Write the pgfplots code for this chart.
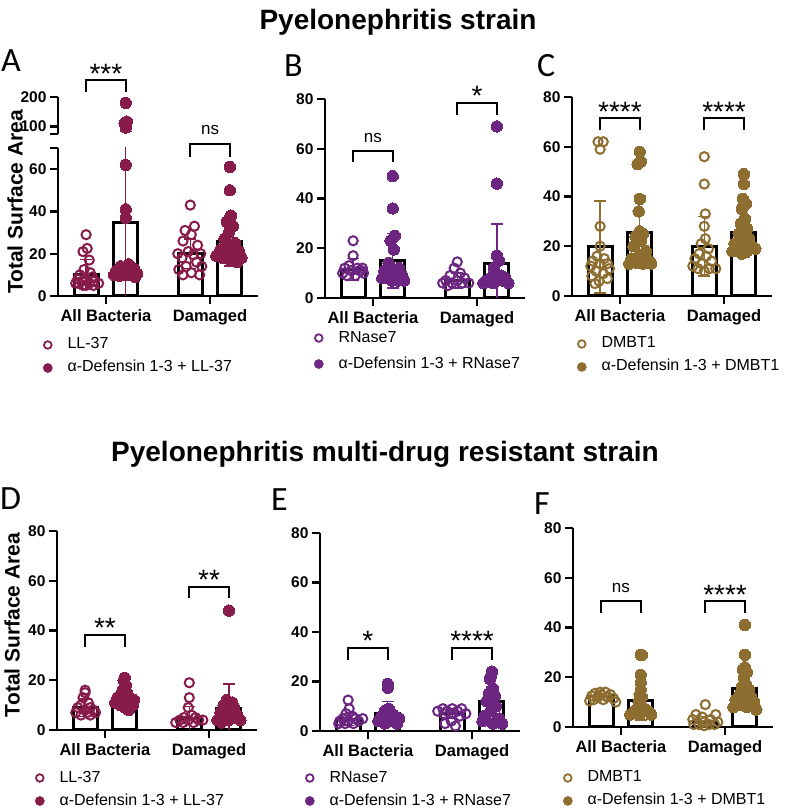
\documentclass[border=0pt]{standalone}
\usepackage{pgfplots}
\pgfplotsset{compat=1.18}
\usepackage{fontspec}
\setmainfont{Liberation Sans}
\newfontfamily\letterfont{Carlito}
\definecolor{cA}{RGB}{135,28,75}
\definecolor{cB}{RGB}{108,38,130}
\definecolor{cC}{RGB}{141,109,48}
\newcommand{\starfont}{\fontsize{28}{30}\selectfont}
\newcommand{\nsfont}{\fontsize{17}{20}\selectfont}
\pgfplotsset{
  /pgf/number format/assume math mode=true,
  panel/.style={
    scale only axis, width=200pt, height=199pt,
    xmin=-0.46, xmax=1.46, ymin=0, ymax=80,
    axis x line=bottom, axis y line=left,
    axis line style={-, line width=2.4pt, black},
    xtick={0,1}, xticklabels={All Bacteria,Damaged},
    ytick={0,20,40,60,80},
    tick align=outside, major tick length=8pt,
    tick style={line width=2.4pt, black},
    x tick label style={font=\bfseries\fontsize{16.5}{19}\selectfont, yshift=-2pt},
    y tick label style={font=\bfseries\fontsize{15.5}{18}\selectfont},
    clip mode=individual,
    legend cell align=left,
    legend style={draw=none, fill=none, inner sep=0pt, outer sep=0pt, anchor=north west,
      font=\fontsize{16}{18}\selectfont, row sep=7pt, column sep=14pt,
      nodes={inner sep=1pt, text height=11pt, text depth=3pt}},
  },
  barS/.style={ybar, bar width=24pt, bar shift=0pt, draw=black, line width=3pt, fill=white, forget plot,
    error bars/.cd, y dir=both, y explicit,
    error bar style={color=#1, line width=1.3pt},
    error mark options={rotate=90, mark size=6pt, line width=1.3pt, color=#1}},
  openP/.style={only marks, mark=o, mark size=4.6pt, color=#1, mark options={line width=2pt, draw=#1}, forget plot},
  fillP/.style={only marks, mark=*, mark size=5.7pt, color=#1, mark options={draw=#1, fill=#1, line width=0pt}, forget plot},
}
\begin{document}
\begin{tikzpicture}[x=1pt,y=1pt]
\useasboundingbox (0,0) rectangle (794,811);

% titles
\node[anchor=base, font=\bfseries\fontsize{28}{32}\selectfont] at (398,781) {Pyelonephritis strain};
\node[anchor=base, font=\bfseries\fontsize{28}{32}\selectfont] at (385,349) {Pyelonephritis multi-drug resistant strain};
% panel letters
\node[anchor=base west, inner sep=0pt, font=\letterfont\fontsize{34}{38}\selectfont] at (1,739) {A};
\node[anchor=base west, inner sep=0pt, font=\letterfont\fontsize{34}{38}\selectfont] at (284,734) {B};
\node[anchor=base west, inner sep=0pt, font=\letterfont\fontsize{34}{38}\selectfont] at (537,734) {C};
\node[anchor=base west, inner sep=0pt, font=\letterfont\fontsize{34}{38}\selectfont] at (0,301) {D};
\node[anchor=base west, inner sep=0pt, font=\letterfont\fontsize{34}{38}\selectfont] at (271,300) {E};
\node[anchor=base west, inner sep=0pt, font=\letterfont\fontsize{34}{38}\selectfont] at (534,296) {F};
% y labels
\node[rotate=90, font=\bfseries\fontsize{21}{24}\selectfont] at (15,609) {Total Surface Area};
\node[rotate=90, font=\bfseries\fontsize{21}{24}\selectfont] at (12,186) {Total Surface Area};

% ---------- Panel A (upper segment of broken axis)
\begin{axis}[scale only axis, width=200pt, height=37pt, at={(58pt,677pt)}, anchor=south west,
  xmin=-0.46, xmax=1.46, ymin=75, ymax=200,
  axis x line=none, axis y line=left, xtick=\empty,
  axis line style={-, line width=2.4pt, black},
  ytick={75,100,200}, yticklabels={{},100,200},
  tick align=outside, major tick length=8pt, tick style={line width=2.4pt, black},
  y tick label style={font=\bfseries\fontsize{15.5}{18}\selectfont},
  clip mode=individual]
\addplot[draw=none, mark=none, forget plot, error bars/.cd, y dir=both, y explicit,
  error bar style={color=cA, line width=1.3pt},
  error mark options={rotate=90, mark size=6pt, line width=1.3pt, color=cA}]
  coordinates {(0.19,34.7) +- (0,48)};
\addplot[fillP=cA] coordinates {(0.19,180) (0.2,117) (0.18,112) (0.19,97)};
\draw[line width=2pt] (axis cs:-0.19,216.9) |- (axis cs:0.19,257.4) -- (axis cs:0.19,216.9);
\node[anchor=base, inner sep=0pt, font=\starfont] at (axis cs:0,247) {***};
\end{axis}

% ---------- Panel A (lower segment)
\begin{axis}[panel, at={(58pt,515pt)}, anchor=south west, height=148pt, ymax=70,
  ytick={0,20,40,60,70}, yticklabels={0,20,40,60,{}},
  legend style={at={(-0.075,-0.277)}}]
\addplot[barS=cA] coordinates {(-0.19,10.3) +- (0,6.8) (0.19,34.7) +- (0,48) (0.81,20) +- (0,7) (1.19,26) +- (0,11.8)};
\addplot[openP=cA] coordinates {(-0.19,29) (-0.18,22.5) (-0.22,21) (-0.16,17) (-0.21,12.5) (-0.15,11) (-0.25,10) (-0.13,9) (-0.27,8) (-0.19,8) (-0.23,7) (-0.11,7) (-0.29,6) (-0.16,6) (-0.07,6) (-0.22,5) (-0.12,5) (-0.26,6) (-0.19,5)
 (0.81,43) (0.85,33) (0.76,31) (0.82,29) (0.74,26) (0.88,24) (0.79,21) (0.69,20) (0.91,20) (0.84,19.5) (0.73,18) (0.87,16) (0.77,14) (0.92,14) (0.7,12.5) (0.82,11) (0.74,10) (0.9,10)};
\addplot[fillP=cA] coordinates {(0.19,62) (0.19,41) (0.19,37) (0.22,15) (0.14,14) (0.27,13) (0.1,12) (0.24,12) (0.17,11) (0.3,10.5) (0.08,10) (0.2,10) (0.13,9.5) (0.28,9)
 (1.19,61) (1.19,50) (1.2,38) (1.16,35) (1.22,33) (1.18,30) (1.14,27) (1.24,25) (1.19,23) (1.1,22) (1.28,21) (1.15,20) (1.23,19) (1.06,19) (1.3,18) (1.12,18) (1.2,17) (1.26,16)};
\addlegendimage{legend image code/.code={\draw[cA,line width=1.8pt] (0pt,0pt) circle (3.8pt);}}
\addlegendentry{LL-37}
\addlegendimage{legend image code/.code={\fill[cA] (0pt,0pt) circle (4.6pt);}}
\addlegendentry{α-Defensin 1-3 + LL-37}
\draw[line width=2pt] (axis cs:0.81,65.8) |- (axis cs:1.19,71.9) -- (axis cs:1.19,65.8);
\node[anchor=base, font=\nsfont] at (axis cs:1,76.2) {ns};
\end{axis}

% ---------- Panel B
\begin{axis}[panel, at={(325pt,513pt)}, anchor=south west,
  legend style={at={(-0.055,-0.161)}, row sep=10pt}]
\addplot[barS=cB] coordinates {(-0.19,11.5) +- (0,4.5) (0.19,15) +- (0,11) (0.81,7) +- (0,3) (1.19,13.8) +- (0,15.9)};
\addplot[openP=cB] coordinates {(-0.19,23) (-0.19,17) (-0.23,13) (-0.15,12) (-0.27,12) (-0.11,11) (-0.21,11) (-0.29,10) (-0.09,10) (-0.17,9) (-0.25,9) (-0.13,11) (-0.1,12)
 (0.81,14.5) (0.78,12) (0.84,10) (0.74,9) (0.88,8) (0.7,7) (0.81,7) (0.92,6) (0.76,6) (0.86,6) (0.72,5) (0.67,6)};
\addplot[fillP=cB] coordinates {(0.19,49) (0.19,36) (0.21,25) (0.17,23) (0.2,19.5) (0.15,14) (0.25,12) (0.11,11) (0.2,10) (0.28,9) (0.09,8) (0.18,7) (0.3,7) (0.24,7) (0.13,8)
 (1.19,69) (1.19,46) (1.19,17) (1.21,15) (1.16,12) (1.23,9) (1.13,8) (1.27,8) (1.09,7) (1.19,7) (1.3,6) (1.15,6) (1.25,7) (1.06,6)};
\addlegendimage{legend image code/.code={\draw[cB,line width=1.8pt] (0pt,0pt) circle (3.8pt);}}
\addlegendentry{RNase7}
\addlegendimage{legend image code/.code={\fill[cB] (0pt,0pt) circle (4.6pt);}}
\addlegendentry{α-Defensin 1-3 + RNase7}
\draw[line width=2pt] (axis cs:-0.19,54.7) |- (axis cs:0.19,59.1) -- (axis cs:0.19,54.7);
\node[anchor=base, font=\nsfont] at (axis cs:0,62.7) {ns};
\draw[line width=2pt] (axis cs:0.81,73.6) |- (axis cs:1.19,78.4) -- (axis cs:1.19,73.6);
\node[anchor=base, inner sep=0pt, font=\starfont] at (axis cs:1,77.2) {*};
\end{axis}

% ---------- Panel C
\begin{axis}[panel, at={(572pt,515pt)}, anchor=south west,
  legend style={at={(0.025,-0.201)}}]
\addplot[barS=cC] coordinates {(-0.19,19.7) +- (0,18.5) (0.19,25.7) +- (0,14.5) (0.81,20) +- (0,12) (1.19,25.5) +- (0,9.8)};
\addplot[openP=cC] coordinates {(-0.21,62) (-0.16,62) (-0.19,59) (-0.19,28) (-0.19,20) (-0.22,16) (-0.15,15) (-0.26,14) (-0.12,13) (-0.19,13) (-0.28,12) (-0.1,11) (-0.23,10) (-0.16,9) (-0.27,8) (-0.12,7) (-0.2,6) (-0.24,5)
 (0.81,56) (0.81,45) (0.82,33) (0.81,28) (0.82,23) (0.78,21) (0.85,19) (0.76,17) (0.83,16) (0.72,15) (0.88,14) (0.79,13) (0.7,12) (0.92,11) (0.75,11) (0.86,11) (0.81,10)};
\addplot[fillP=cC] coordinates {(0.19,58) (0.2,54) (0.17,53) (0.19,39) (0.18,34) (0.19,26) (0.22,25) (0.15,24) (0.2,22) (0.13,20) (0.25,18) (0.18,16) (0.11,15) (0.28,14) (0.14,14) (0.22,13) (0.09,13) (0.3,13)
 (1.19,49) (1.19,45) (1.18,39) (1.21,37) (1.17,35) (1.2,31) (1.16,29) (1.22,27) (1.14,25) (1.24,23) (1.19,22) (1.1,21) (1.27,20) (1.13,19) (1.3,19) (1.08,18) (1.22,18) (1.17,17)};
\addlegendimage{legend image code/.code={\draw[cC,line width=1.8pt] (0pt,0pt) circle (3.8pt);}}
\addlegendentry{DMBT1}
\addlegendimage{legend image code/.code={\fill[cC] (0pt,0pt) circle (4.6pt);}}
\addlegendentry{α-Defensin 1-3 + DMBT1}
\draw[line width=2pt] (axis cs:-0.19,66.7) |- (axis cs:0.19,71.6) -- (axis cs:0.19,66.7);
\node[anchor=base, inner sep=0pt, font=\starfont] at (axis cs:0,70) {****};
\draw[line width=2pt] (axis cs:0.81,66.7) |- (axis cs:1.19,71.6) -- (axis cs:1.19,66.7);
\node[anchor=base, inner sep=0pt, font=\starfont] at (axis cs:1,70) {****};
\end{axis}

% ---------- Panel D
\begin{axis}[panel, at={(57pt,81pt)}, anchor=south west,
  legend style={at={(-0.11,-0.201)}}]
\addplot[barS=cA] coordinates {(-0.19,9) +- (0,3.5) (0.19,12.3) +- (0,3.8) (0.81,4.6) +- (0,4.8) (1.19,8.8) +- (0,9.7)};
\addplot[openP=cA] coordinates {(-0.19,16) (-0.19,15) (-0.21,13) (-0.16,11) (-0.23,10) (-0.14,9) (-0.26,9) (-0.19,8) (-0.11,8) (-0.28,7) (-0.17,7) (-0.09,7) (-0.23,6) (-0.14,6)
 (0.81,19) (0.81,13) (0.8,9) (0.83,6) (0.76,5) (0.87,5) (0.72,4) (0.8,4) (0.9,4) (0.75,3) (0.85,3) (0.68,3) (0.94,4)};
\addplot[fillP=cA] coordinates {(0.19,21) (0.18,20) (0.2,18) (0.17,16) (0.21,15) (0.15,14) (0.24,13) (0.12,13) (0.19,12) (0.28,12) (0.1,11) (0.22,11) (0.15,10) (0.27,10) (0.19,9) (0.23,8)
 (1.19,48) (1.17,12) (1.22,11) (1.14,10) (1.24,9) (1.19,8) (1.11,7) (1.27,6) (1.15,5) (1.23,5) (1.08,4) (1.3,4) (1.19,4) (1.12,3)};
\addlegendimage{legend image code/.code={\draw[cA,line width=1.8pt] (0pt,0pt) circle (3.8pt);}}
\addlegendentry{LL-37}
\addlegendimage{legend image code/.code={\fill[cA] (0pt,0pt) circle (4.6pt);}}
\addlegendentry{α-Defensin 1-3 + LL-37}
\draw[line width=2pt] (axis cs:-0.19,33.4) |- (axis cs:0.19,38.2) -- (axis cs:0.19,33.4);
\node[anchor=base, inner sep=0pt, font=\starfont] at (axis cs:0,37) {**};
\draw[line width=2pt] (axis cs:0.81,53.1) |- (axis cs:1.19,57.5) -- (axis cs:1.19,53.1);
\node[anchor=base, inner sep=0pt, font=\starfont] at (axis cs:1,56.3) {**};
\end{axis}

% ---------- Panel E
\begin{axis}[panel, at={(320pt,80pt)}, anchor=south west, height=198pt,
  legend style={at={(-0.075,-0.197)}}]
\addplot[barS=cB] coordinates {(-0.19,4.6) +- (0,2.5) (0.19,7) +- (0,5) (0.81,7) +- (0,2) (1.19,11.8) +- (0,6)};
\addplot[openP=cB] coordinates {(-0.19,12.5) (-0.18,9) (-0.21,7) (-0.15,6) (-0.24,5) (-0.12,5) (-0.27,4) (-0.19,4) (-0.09,4) (-0.22,3) (-0.14,3) (-0.28,3) (-0.05,5)
 (0.81,9) (0.72,9) (0.9,9) (0.76,8) (0.86,8) (0.67,8) (0.81,7) (0.94,7) (0.73,7) (0.88,6) (0.8,4) (0.74,3) (0.84,2)};
\addplot[fillP=cB] coordinates {(0.19,19) (0.19,17.5) (0.2,9) (0.16,8) (0.23,7) (0.13,6) (0.26,6) (0.18,5) (0.3,5) (0.1,4) (0.22,4) (0.16,3) (0.28,3)
 (1.19,24) (1.18,22) (1.17,21) (1.2,17) (1.16,15) (1.22,14) (1.19,13) (1.14,12) (1.23,10) (1.18,8) (1.12,6) (1.26,5) (1.1,4) (1.2,3) (1.29,3)};
\addlegendimage{legend image code/.code={\draw[cB,line width=1.8pt] (0pt,0pt) circle (3.8pt);}}
\addlegendentry{RNase7}
\addlegendimage{legend image code/.code={\fill[cB] (0pt,0pt) circle (4.6pt);}}
\addlegendentry{α-Defensin 1-3 + RNase7}
\draw[line width=2pt] (axis cs:-0.19,28.7) |- (axis cs:0.19,33.5) -- (axis cs:0.19,28.7);
\node[anchor=base, inner sep=0pt, font=\starfont] at (axis cs:0,32.7) {*};
\draw[line width=2pt] (axis cs:0.81,28.7) |- (axis cs:1.19,33.5) -- (axis cs:1.19,28.7);
\node[anchor=base, inner sep=0pt, font=\starfont] at (axis cs:1,32.7) {****};
\end{axis}

% ---------- Panel F
\begin{axis}[panel, at={(573pt,84pt)}, anchor=south west,
  legend style={at={(-0.05,-0.216)}}]
\addplot[barS=cC] coordinates {(-0.19,12.3) +- (0,1.3) (0.19,10.5) +- (0,7.7) (0.81,2) +- (0,2.3) (1.19,15.4) +- (0,8.1)};
\addplot[openP=cC] coordinates {(-0.2,14) (-0.15,14) (-0.25,13.5) (-0.1,13) (-0.19,13) (-0.28,12.5) (-0.13,12) (-0.22,12) (-0.07,11.5) (-0.17,11) (-0.26,11) (-0.05,10) (-0.3,10.5)
 (0.81,9) (0.72,5) (0.91,5) (0.78,4) (0.86,3) (0.69,3) (0.8,2) (0.93,2) (0.75,1) (0.85,1) (0.7,1) (0.8,0.5) (0.9,1)};
\addplot[fillP=cC] coordinates {(0.19,29) (0.2,29) (0.19,21) (0.19,18) (0.19,15) (0.18,13) (0.2,12) (0.17,10) (0.21,8) (0.15,7) (0.24,7) (0.12,6) (0.27,6) (0.18,5) (0.29,5) (0.09,5)
 (1.19,41) (1.19,29) (1.19,24) (1.17,23) (1.21,22) (1.18,20) (1.2,17) (1.16,16) (1.23,15) (1.14,13) (1.25,12) (1.1,11) (1.28,10) (1.15,9) (1.21,8) (1.08,8) (1.3,7)};
\addlegendimage{legend image code/.code={\draw[cC,line width=1.8pt] (0pt,0pt) circle (3.8pt);}}
\addlegendentry{DMBT1}
\addlegendimage{legend image code/.code={\fill[cC] (0pt,0pt) circle (4.6pt);}}
\addlegendentry{α-Defensin 1-3 + DMBT1}
\draw[line width=2pt] (axis cs:-0.19,45.8) |- (axis cs:0.19,50.7) -- (axis cs:0.19,45.8);
\node[anchor=base, font=\nsfont] at (axis cs:0,53.9) {ns};
\draw[line width=2pt] (axis cs:0.81,45.8) |- (axis cs:1.19,50.7) -- (axis cs:1.19,45.8);
\node[anchor=base, inner sep=0pt, font=\starfont] at (axis cs:1,49.4) {****};
\end{axis}
\end{tikzpicture}
\end{document}
